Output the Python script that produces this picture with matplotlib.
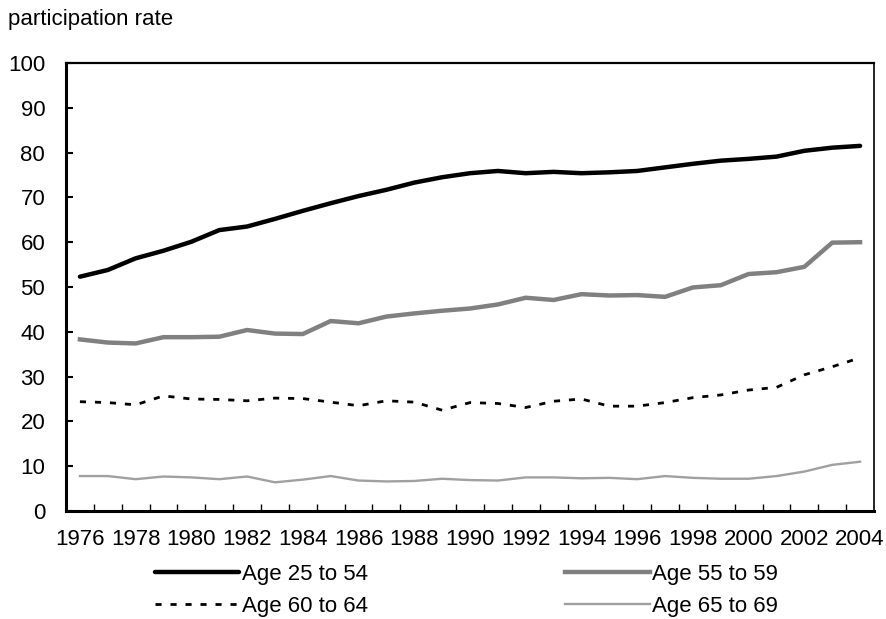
import numpy as np
import matplotlib
matplotlib.use("Agg")
import matplotlib.pyplot as plt

plt.rcParams['font.family'] = ['Liberation Sans', 'DejaVu Sans']

# --- data ---
years = list(range(1976, 2005))
age_25_54 = [52.3, 53.8, 56.4, 58.1, 60.1, 62.7, 63.5, 65.2, 67.0, 68.7,
             70.3, 71.7, 73.3, 74.5, 75.4, 75.9, 75.4, 75.7, 75.4, 75.6,
             75.9, 76.7, 77.5, 78.2, 78.6, 79.1, 80.4, 81.1, 81.5]
age_55_59 = [38.3, 37.6, 37.4, 38.8, 38.8, 38.9, 40.4, 39.6, 39.5, 42.4,
             41.9, 43.4, 44.1, 44.7, 45.2, 46.1, 47.6, 47.1, 48.4, 48.1,
             48.2, 47.8, 49.9, 50.4, 52.9, 53.3, 54.5, 59.9, 60.0]
age_60_64 = [24.4, 24.2, 23.7, 25.7, 25.0, 24.9, 24.6, 25.2, 25.1, 24.3,
             23.5, 24.6, 24.3, 22.5, 24.2, 24.0, 23.1, 24.5, 25.0, 23.4,
             23.4, 24.2, 25.3, 25.9, 27.0, 27.6, 30.4, 32.2, 34.2]
age_65_69 = [7.8, 7.8, 7.1, 7.7, 7.5, 7.1, 7.7, 6.4, 7.0, 7.8,
             6.8, 6.6, 6.7, 7.2, 6.9, 6.8, 7.5, 7.5, 7.3, 7.4,
             7.1, 7.8, 7.4, 7.2, 7.2, 7.8, 8.8, 10.3, 11.0]
tick_labels = [str(y) for y in years[::2]]

FS = 16

fig = plt.figure(figsize=(8.87, 6.19), dpi=100)
ax = fig.add_axes([66 / 887, 1 - 511 / 619, (874 - 66) / 887, (511 - 63) / 619])

x = np.arange(len(years))
l1, = ax.plot(x, age_25_54, color='black', lw=3.2, solid_joinstyle='round',
              solid_capstyle='round', label='Age 25 to 54')
l2, = ax.plot(x, age_55_59, color='#808080', lw=3.2, solid_joinstyle='round',
              label='Age 55 to 59')
l3, = ax.plot(x, age_60_64, color='black', lw=2.0, dashes=(2.2, 3.2),
              label='Age 60 to 64')
l4, = ax.plot(x, age_65_69, color='#a0a0a0', lw=1.7, label='Age 65 to 69')

ax.set_xlim(-0.5, len(years) - 0.5)
ax.set_ylim(0, 100)
ax.set_yticks(np.arange(0, 101, 10))

# category axis: tick marks between years, labels every other year
ax.set_xticks(np.arange(0.5, len(years) - 1, 1.0))
ax.set_xticklabels([])
ax.set_xticks(x[::2], minor=True)
ax.set_xticklabels(tick_labels, minor=True)
ax.tick_params(axis='x', which='major', direction='in', length=5, width=1)
ax.tick_params(axis='x', which='minor', length=0, pad=13, labelsize=FS)
ax.tick_params(axis='y', direction='in', length=5, width=1.5, pad=15, labelsize=FS)

ax.spines['left'].set_linewidth(2.2)
ax.spines['bottom'].set_linewidth(2.2)
ax.spines['top'].set_linewidth(1.6)
ax.spines['right'].set_linewidth(1.2)

fig.text(8 / 887, 1 - 20 / 619, 'participation rate', fontsize=FS, va='center', ha='left')

fig.legend([l1, l3, l2, l4],
           ['Age 25 to 54', 'Age 60 to 64', 'Age 55 to 59', 'Age 65 to 69'],
           ncol=2, loc='upper left', bbox_to_anchor=(155 / 887, 1 - 564 / 619),
           frameon=False, fontsize=FS, handlelength=3.8, handletextpad=0.1,
           columnspacing=8.9, labelspacing=0.5, borderpad=0, borderaxespad=0)

fig.savefig('out.png', dpi=100)
